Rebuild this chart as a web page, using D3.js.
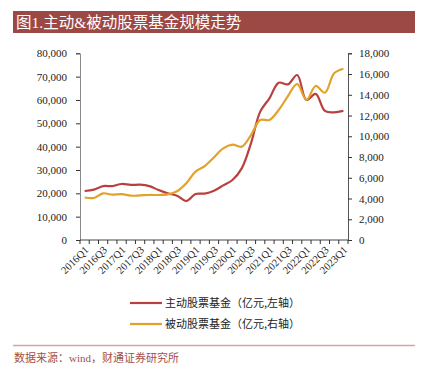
<!DOCTYPE html>
<html>
<head>
<meta charset="utf-8">
<script src="https://cdn.jsdelivr.net/npm/d3@7"></script>
<style>
  body { margin: 0; background: #fff; }
  svg { display: block; }
</style>
</head>
<body>
<script>
"use strict";
(function () {
// quarters 2016Q1 .. 2023Q1
const quarters = []
for (let y = 2016; y <= 2023; y++) {
    for (let q = 1; q <= 4; q++) {
        if (y === 2023 && q > 1) break
        quarters.push(y + "Q" + q)
    }
}

// 主动股票基金 (亿元, left axis)
const activeFund = [21000, 21600, 23100, 23100, 24000, 23600, 23700, 23100, 21400, 20000,
    19000, 16700, 19700, 19900, 21100, 23400, 25700, 30700, 41400, 55000,
    60700, 67400, 66700, 70700, 60000, 62600, 55300, 54700, 55300]

// 被动股票基金 (亿元, right axis)
const passiveFund = [4100, 4050, 4500, 4370, 4430, 4270, 4300, 4340, 4340, 4400,
    4700, 5470, 6590, 7130, 7970, 8840, 9190, 9000, 10120, 11570,
    11570, 12530, 13880, 15040, 13500, 14850, 14200, 16070, 16510]

const leftTicks = [0, 10000, 20000, 30000, 40000, 50000, 60000, 70000, 80000]
const rightTicks = [0, 2000, 4000, 6000, 8000, 10000, 12000, 14000, 16000, 18000]
const legendLabels = ["主动股票基金（亿元,左轴）", "被动股票基金（亿元,右轴）"]

const m = { width: 423, height: 369 }
const plot = { left: 80, right: 348, top: 53.3, bottom: 240 }
const red = "#b9403f"
const orange = "#e2a228"
const serif = "'Liberation Serif', 'Noto Sans CJK SC', serif"
const sans = "'Noto Sans CJK SC', sans-serif"

const svg = d3.select("body").append("svg")
    .attr("width", m.width)
    .attr("height", m.height)

// title bar
svg.append("rect")
    .attr("x", 13).attr("y", 11)
    .attr("width", 402).attr("height", 22)
    .attr("fill", "#9c4946")
svg.append("text")
    .attr("x", 16).attr("y", 28)
    .attr("fill", "#fff")
    .style("font-family", serif)
    .style("font-size", "15.5px")
    .text("图1.主动&被动股票基金规模走势")

const x = d3.scaleBand()
    .domain(quarters)
    .range([plot.left, plot.right])

const yL = d3.scaleLinear().domain([0, 80000]).range([plot.bottom, plot.top])
const yR = d3.scaleLinear().domain([0, 18000]).range([plot.bottom, plot.top])

const fmt = d3.format(",")

// left axis
const gL = svg.append("g")
    .attr("transform", `translate(${plot.left},0)`)
    .call(d3.axisLeft(yL).tickValues(leftTicks).tickFormat(fmt).tickSize(4).tickPadding(9))
gL.select(".domain").attr("stroke", "#8a8a8a")
gL.selectAll(".tick line").attr("stroke", "#333")

// right axis
const gR = svg.append("g")
    .attr("transform", `translate(${plot.right},0)`)
    .call(d3.axisRight(yR).tickValues(rightTicks).tickFormat(fmt).tickSize(4).tickPadding(7))
gR.select(".domain").attr("stroke", "#555")
gR.selectAll(".tick line").attr("stroke", "#333")

svg.selectAll(".tick text")
    .style("font-family", serif)
    .style("font-size", "11px")
    .attr("fill", "#222")

// bottom axis: ticks on category boundaries
const gB = svg.append("g")
    .attr("transform", `translate(0,${plot.bottom})`)
gB.append("line")
    .attr("x1", plot.left).attr("x2", plot.right)
    .attr("stroke", "#444")
const bounds = quarters.map(d => x(d)).concat([plot.right])
gB.selectAll(".xt")
    .data(bounds)
    .enter()
    .append("line")
    .attr("x1", d => d).attr("x2", d => d)
    .attr("y1", 0).attr("y2", 4)
    .attr("stroke", "#333")
gB.selectAll(".xl")
    .data(quarters.filter((d, i) => i % 2 === 0))
    .enter()
    .append("text")
    .attr("transform", d => `translate(${x(d) + x.bandwidth() / 2 + 2},${8}) rotate(-45)`)
    .attr("text-anchor", "end")
    .attr("dy", "0.35em")
    .style("font-family", serif)
    .style("font-size", "10.5px")
    .attr("fill", "#222")
    .text(d => d)

const cx = d => x(d) + x.bandwidth() / 2

const lineL = d3.line()
    .x((d, i) => cx(quarters[i]))
    .y(d => yL(d))
    .curve(d3.curveCatmullRom.alpha(0.5))
const lineR = d3.line()
    .x((d, i) => cx(quarters[i]))
    .y(d => yR(d))
    .curve(d3.curveCatmullRom.alpha(0.5))

svg.append("path")
    .attr("d", lineL(activeFund))
    .attr("fill", "none")
    .attr("stroke", red)
    .attr("stroke-width", 2.2)
svg.append("path")
    .attr("d", lineR(passiveFund))
    .attr("fill", "none")
    .attr("stroke", orange)
    .attr("stroke-width", 2.2)

// legend
const lg = svg.append("g")
lg.selectAll("line")
    .data([red, orange])
    .enter()
    .append("line")
    .attr("x1", 130).attr("x2", 162)
    .attr("y1", (d, i) => 303 + i * 21).attr("y2", (d, i) => 303 + i * 21)
    .attr("stroke", d => d)
    .attr("stroke-width", 2.2)
lg.selectAll("text")
    .data(legendLabels)
    .enter()
    .append("text")
    .attr("x", 165)
    .attr("y", (d, i) => 303 + i * 21)
    .attr("dy", "0.36em")
    .style("font-family", sans)
    .style("font-size", "11px")
    .attr("fill", "#222")
    .text(d => d)

// footer
svg.append("line")
    .attr("x1", 13).attr("x2", 415)
    .attr("y1", 345.5).attr("y2", 345.5)
    .attr("stroke", "#d3a6a4")
    .attr("stroke-width", 1.6)
svg.append("text")
    .attr("x", 14).attr("y", 362)
    .attr("fill", "#a0504c")
    .style("font-family", serif)
    .style("font-size", "11px")
    .text("数据来源：wind，财通证券研究所")
})();
</script>
</body>
</html>
